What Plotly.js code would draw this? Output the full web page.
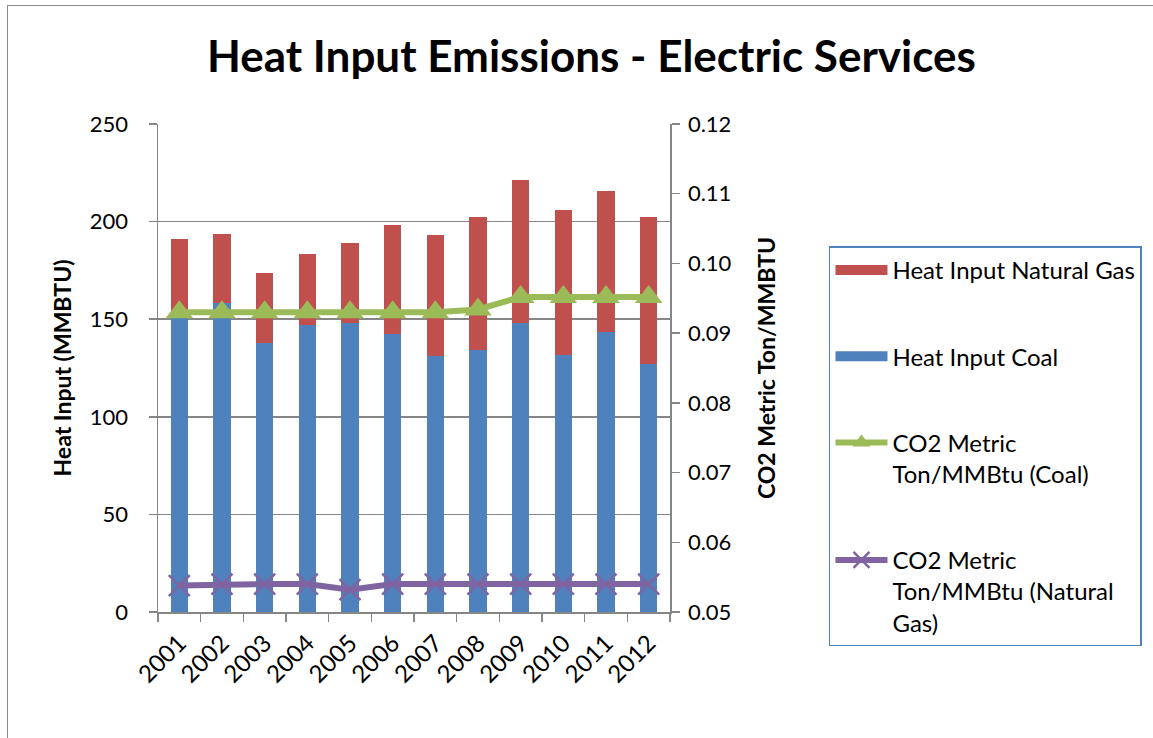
<!DOCTYPE html>
<html>
<head>
<meta charset="utf-8">
<script src="https://cdn.plot.ly/plotly-3.0.1.min.js"></script>
<style>
  html, body { margin:0; padding:0; background:#fff; overflow:hidden; }
  #frame { position:absolute; left:7px; top:5px; width:1160px; height:760px;
           border-left:1.5px solid #8c8c8c; border-top:1.5px solid #8c8c8c; }
  #chart { position:absolute; left:0; top:0; width:1153px; height:738px; }
</style>
</head>
<body>
<div id="frame"></div>
<div id="chart"></div>
<script>
const years = ['2001','2002','2003','2004','2005','2006','2007','2008','2009','2010','2011','2012'];
const heatCoal = [152, 158.5, 137.8, 146.9, 148, 142.4, 131.1, 134, 148, 131.5, 143.3, 127];
const heatGas = [39.1, 35.0, 35.9, 36.3, 41.2, 55.9, 61.9, 68.2, 73.5, 74.3, 72.4, 75.4];
const co2Coal = [0.0930, 0.0930, 0.0930, 0.0930, 0.0930, 0.0930, 0.0930, 0.0934, 0.0952, 0.0952, 0.0952, 0.0952];
const co2Gas = [0.0538, 0.0540, 0.0540, 0.0540, 0.0532, 0.0540, 0.0540, 0.0540, 0.0540, 0.0540, 0.0540, 0.0540];

const FONT = 'Lato, "Open Sans", sans-serif';
const RED = '#C0504D', BLUE = '#4F81BD', GREEN = '#9BBB59', PURPLE = '#8064A2';

const traces = [
  { type:'bar', x:years, y:heatCoal, name:'Heat Input Coal', showlegend:false,
    marker:{color:BLUE} },
  { type:'bar', x:years, y:heatGas, name:'Heat Input Natural Gas', showlegend:false,
    marker:{color:RED} },
  { type:'scatter', mode:'lines+markers', x:years, y:co2Coal, yaxis:'y2',
    name:'CO2 Metric<br>Ton/MMBtu (Coal)', legendgroup:'c', legendrank:3,
    line:{color:GREEN, width:6}, marker:{symbol:'triangle-up', size:24, color:GREEN} },
  { type:'scatter', mode:'lines+markers', x:years, y:co2Gas, yaxis:'y2',
    name:'CO2 Metric<br>Ton/MMBtu (Natural<br>Gas)', legendgroup:'d', legendrank:4,
    line:{color:PURPLE, width:6}, marker:{symbol:'x-thin', size:21, line:{color:PURPLE, width:2.5}, color:PURPLE} },
  // legend-only swatches for the bar series (wide rectangles, as in the original legend)
  { type:'scatter', mode:'lines', x:[years[0]], y:[null], name:'Heat Input Natural Gas',
    legendgroup:'a', legendrank:1, line:{color:RED, width:15} },
  { type:'scatter', mode:'lines', x:[years[0]], y:[null], name:'Heat Input Coal',
    legendgroup:'b', legendrank:2, line:{color:BLUE, width:15} }
];

const layout = {
  width:1153, height:738,
  paper_bgcolor:'rgba(0,0,0,0)', plot_bgcolor:'rgba(0,0,0,0)',
  font:{family:FONT, color:'#000', size:22},
  margin:{l:158, r:483, t:124, b:126, pad:0, autoexpand:false},
  title:{text:'<b>Heat Input Emissions - Electric Services</b>', font:{size:44, family:FONT},
         x:0.513, xanchor:'center', xref:'container', y:0.923, yanchor:'middle'},
  barmode:'stack', bargap:0.6,
  xaxis:{type:'category', range:[-0.5, 11.5], autorange:false,
         showline:true, linecolor:'#868686', linewidth:1.5,
         ticks:'outside', tickson:'boundaries', ticklen:8, tickcolor:'#868686', tickwidth:1.5,
         tickangle:-45, tickfont:{size:24}, ticklabelstandoff:6, showgrid:false},
  yaxis:{range:[0,250], dtick:50, showline:true, linecolor:'#868686', linewidth:1.5,
         ticks:'outside', ticklen:8, tickcolor:'#868686', tickwidth:1.5,
         showgrid:true, gridcolor:'#868686', gridwidth:1.5, zeroline:false,
         tickfont:{size:22}, ticklabelstandoff:16,
         title:{text:'<b>Heat Input (MMBTU)</b>', font:{size:23}, standoff:12}},
  yaxis2:{overlaying:'y', side:'right', range:[0.05,0.12], dtick:0.01, tickformat:'.2f',
          showline:true, linecolor:'#868686', linewidth:1.5,
          ticks:'outside', ticklen:8, tickcolor:'#868686', tickwidth:1.5,
          showgrid:false, zeroline:false, tickfont:{size:22}, ticklabelstandoff:4,
          title:{text:'<b>CO2 Metric Ton/MMBTU</b>', font:{size:23}, standoff:28}},
  legend:{x:1.3105, xanchor:'left', y:0.749, yanchor:'top', orientation:'v',
          traceorder:'grouped', tracegroupgap:52, itemwidth:52,
          bordercolor:BLUE, borderwidth:1.5, bgcolor:'#fff',
          font:{size:24, family:FONT}, valign:'top'},
  showlegend:true
};

Plotly.newPlot('chart', traces, layout, {staticPlot:true});
</script>
</body>
</html>
